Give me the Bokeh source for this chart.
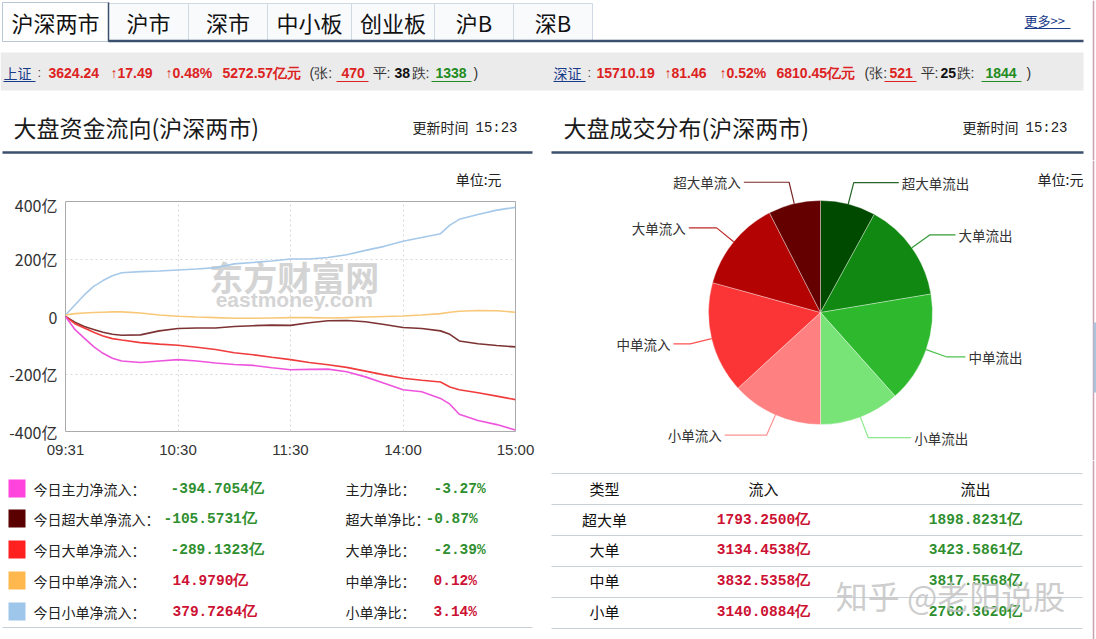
from bokeh.plotting import figure
from bokeh.layouts import column, row
from bokeh.models import Range1d, FixedTicker
from bokeh.core.properties import value
from bokeh.embed import file_html
from bokeh.resources import INLINE
import math

CJK = "Noto Sans CJK SC"
SANS = "Liberation Sans"
MONO = "Liberation Mono"

# ---------------- data ----------------
tabs = ["沪深两市", "沪市", "深市", "中小板", "创业板", "沪B", "深B"]

sh_name, sh_index, sh_chg, sh_pct, sh_amt, sh_up, sh_flat, sh_down = "上证", 3624.24, 17.49, 0.48, 5272.57, 470, 38, 1338
sz_name, sz_index, sz_chg, sz_pct, sz_amt, sz_up, sz_flat, sz_down = "深证", 15710.19, 81.46, 0.52, 6810.45, 521, 25, 1844

minutes = [0, 5, 10, 15, 20, 25, 30, 40, 50, 60, 70, 80, 90, 100, 110, 120, 130, 140, 150,
           160, 170, 180, 190, 200, 205, 210, 220, 230, 240]
small_flow = [5, 40, 75, 105, 125, 142, 152, 156, 158, 162, 165, 170, 183, 188, 193, 200, 200, 205, 215,
              230, 244, 262, 275, 288, 318, 338, 355, 370, 379.7]
medium_flow = [5, 10, 12, 14, 15, 16, 16, 12, 5, 1, -2, -4, -6, -6, -5, -4, -4, -5, -4,
               -2, 0, 2, 5, 10, 15, 18, 21, 20, 15.0]
super_flow = [0, -20, -35, -45, -55, -62, -65, -64, -50, -42, -40, -40, -35, -32, -30, -31, -22, -15, -14,
              -18, -28, -38, -42, -50, -62, -85, -95, -101, -105.6]
large_flow = [0, -25, -40, -55, -68, -77, -82, -91, -96, -100, -107, -115, -126, -133, -142, -150, -160, -168, -177,
              -190, -203, -215, -222, -228, -245, -255, -265, -277, -289.1]
main_flow = [0, -45, -75, -105, -128, -145, -155, -160, -155, -150, -155, -162, -167, -170, -178, -185, -184, -183, -192,
             -210, -232, -255, -262, -285, -305, -340, -362, -376, -394.7]

x_tick_pos = [0, 60, 120, 180, 240]
x_tick_labels = ["09:31", "10:30", "11:30", "14:00", "15:00"]
y_tick_pos = [-400, -200, 0, 200, 400]
y_tick_labels = ["-400亿", "-200亿", "0", "200亿", "400亿"]

legend_names = ["今日主力净流入：", "今日超大单净流入：", "今日大单净流入：", "今日中单净流入：", "今日小单净流入："]
net_values = [-394.7054, -105.5731, -289.1323, 14.9790, 379.7264]
ratio_names = ["主力净比：", "超大单净比：", "大单净比：", "中单净比：", "小单净比："]
ratio_values = [-3.27, -0.87, -2.39, 0.12, 3.14]

order_types = ["超大单", "大单", "中单", "小单"]
inflow = [1793.2500, 3134.4538, 3832.5358, 3140.0884]
outflow = [1898.8231, 3423.5861, 3817.5568, 2760.3620]

pie_labels = ["超大单流出", "大单流出", "中单流出", "小单流出", "小单流入", "中单流入", "大单流入", "超大单流入"]
pie_values = [outflow[0], outflow[1], outflow[2], outflow[3], inflow[3], inflow[2], inflow[1], inflow[0]]

# ---------------- styles ----------------
RED = "#dd2222"
GREEN = "#228b22"
VRED = "#cc1133"
VGREEN = "#2f8f2f"
BLUE_LINK = "#1a3a8a"
SLATE = "#3d4f6e"
line_colors = ["#a6c9ea", "#f8c878", "#7d3333", "#f03c3c", "#ee55dd"]
square_colors = ["#ff44dd", "#5a0000", "#ff2020", "#ffb84d", "#9ec5ea"]
pie_colors = ["#004a00", "#118811", "#2eb82e", "#78e478", "#ff8080", "#fb3535", "#b30303", "#640000"]


def canvas(w, h, yup=False):
    p = figure(width=w, height=h, x_range=Range1d(0, w),
               y_range=Range1d(0, h) if yup else Range1d(h, 0),
               output_backend="svg", toolbar_location=None, min_border=0,
               x_axis_location=None, y_axis_location=None)
    p.xgrid.visible = False
    p.ygrid.visible = False
    p.outline_line_color = None
    p.background_fill_color = "white"
    p.border_fill_color = "white"
    return p


def T(p, x, y, s, size=14, color="#222222", font=CJK, bold=False, align="left", base="middle", alpha=1.0):
    p.text(x=[x], y=[y], text=[s], text_font=value(font), text_font_size=value(f"{size}px"),
           text_color=color, text_font_style="bold" if bold else "normal",
           text_align=align, text_baseline=base, text_alpha=alpha)


# ---------------- header ----------------
hd = canvas(1096, 160)
tab_edges = [2, 108, 188, 267, 351, 434, 513, 592]
hd.quad(left=tab_edges[1:-1], right=tab_edges[2:], top=[3] * (len(tabs) - 1), bottom=[40] * (len(tabs) - 1),
        fill_color="#f9fafc", line_color="#cfd9e4", line_width=1)
hd.quad(left=[tab_edges[0]], right=[tab_edges[1]], top=[2], bottom=[41], fill_color="white",
        line_color="#b8c6d6", line_width=1)
hd.segment(x0=[tab_edges[1]], y0=[2], x1=[tab_edges[1]], y1=[41], line_color=SLATE, line_width=1.5)
for i, t in enumerate(tabs):
    T(hd, (tab_edges[i] + tab_edges[i + 1]) / 2, 21, t, size=22, color="#111111", align="center")
hd.segment(x0=[tab_edges[1]], y0=[40.5], x1=[1083], y1=[40.5], line_color=SLATE, line_width=2.5)
T(hd, 1024, 20, "更多>>", size=13, color=BLUE_LINK)
hd.segment(x0=[1024], y0=[28], x1=[1070], y1=[28], line_color=BLUE_LINK, line_width=1)

# index bar
hd.quad(left=[0], right=[1083], top=[52], bottom=[90], fill_color="#ebebeb", line_color=None)


def index_line(x0, name, idx, chg, pct, amt, up, flat, down, xs):
    T(hd, x0, 72, name, size=14, color=BLUE_LINK)
    hd.segment(x0=[x0], y0=[81], x1=[x0 + 32], y1=[81], line_color=BLUE_LINK, line_width=1)
    T(hd, xs[0], 72, ":", size=13, color="#444444", font=SANS)
    T(hd, xs[1], 72, f"{idx:.2f}", bold=True, color=RED, font=SANS)
    T(hd, xs[2], 72, f"↑{chg:.2f}", bold=True, color=RED, font=SANS)
    T(hd, xs[3], 72, f"↑{pct:.2f}%", bold=True, color=RED, font=SANS)
    T(hd, xs[4], 72, f"{amt:.2f}亿元", bold=True, color=RED, font=SANS)
    T(hd, xs[5], 72, "(张:", color="#333333", font=SANS)
    T(hd, xs[6] + 5, 72, f"{up}", bold=True, color=RED, font=SANS)
    hd.segment(x0=[xs[6]], y0=[81], x1=[xs[6] + 32], y1=[81], line_color=RED, line_width=1)
    T(hd, xs[7], 72, "平:", color="#333333", font=SANS)
    T(hd, xs[8], 72, f"{flat}", bold=True, color="#111111", font=SANS)
    T(hd, xs[9], 72, "跌:", color="#333333", font=SANS)
    T(hd, xs[10] + 4, 72, f"{down}", bold=True, color=GREEN, font=SANS)
    hd.segment(x0=[xs[10]], y0=[81], x1=[xs[10] + 40], y1=[81], line_color=GREEN, line_width=1)
    T(hd, xs[11], 72, ")", color="#333333", font=SANS)


index_line(3, sh_name, sh_index, sh_chg, sh_pct, sh_amt, sh_up, sh_flat, sh_down,
           [37, 48, 110, 165, 222, 309, 336, 372, 394, 411, 431, 473])
index_line(553, sz_name, sz_index, sz_chg, sz_pct, sz_amt, sz_up, sz_flat, sz_down,
           [587, 596, 664, 719, 776, 864, 884, 920, 940, 956, 981, 1026])

# section titles
T(hd, 13, 126, "大盘资金流向(沪深两市)", size=23, color="#1a1a1a")
T(hd, 412, 126, "更新时间", size=14, color="#222222")
T(hd, 475, 127, "15:23", size=14, color="#222222", font=MONO)
T(hd, 563, 126, "大盘成交分布(沪深两市)", size=23, color="#1a1a1a")
T(hd, 962, 126, "更新时间", size=14, color="#222222")
T(hd, 1025, 127, "15:23", size=14, color="#222222", font=MONO)
hd.segment(x0=[2, 551], y0=[152, 152], x1=[532, 1083], y1=[152, 152], line_color=SLATE, line_width=2.5)
hd.segment(x0=[1093], y0=[0], x1=[1093], y1=[160], line_color="#c9a0b0", line_width=1.5)

# ---------------- left middle: unit + line chart ----------------
uf = canvas(550, 32)
T(uf, 533, 18, "单位:元", size=14, color="#222222", align="right")

lf = figure(width=550, height=268, x_range=Range1d(0, 240), y_range=Range1d(-400, 400),
            output_backend="svg", toolbar_location=None,
            min_border_left=65, min_border_right=35, min_border_top=9, min_border_bottom=27)
lf.outline_line_color = "#aaaaaa"
lf.outline_line_width = 1
lf.background_fill_color = "white"
lf.border_fill_color = "white"
for ax in (lf.xaxis[0], lf.yaxis[0]):
    ax.axis_line_color = None
    ax.major_tick_line_color = None
    ax.minor_tick_line_color = None
    ax.major_tick_out = 0
    ax.major_tick_in = 0
    ax.minor_tick_out = 0
    ax.major_label_text_color = "#333333"
lf.xaxis.major_label_text_font = SANS
lf.xaxis.major_label_text_font_size = "15px"
lf.yaxis.major_label_text_font = CJK
lf.yaxis.major_label_text_font_size = "16px"
lf.xaxis.ticker = FixedTicker(ticks=x_tick_pos)
lf.xaxis.major_label_overrides = dict(zip(x_tick_pos, x_tick_labels))
lf.xaxis.major_label_standoff = 9
lf.yaxis.ticker = FixedTicker(ticks=y_tick_pos)
lf.yaxis.major_label_overrides = dict(zip(y_tick_pos, y_tick_labels))
lf.yaxis.major_label_standoff = 8
lf.xgrid.ticker = FixedTicker(ticks=x_tick_pos[1:-1])
lf.ygrid.ticker = FixedTicker(ticks=[-200, 200])
for g in (lf.xgrid[0], lf.ygrid[0]):
    g.grid_line_color = "#d8d8d8"
    g.grid_line_dash = "2 3"
    g.grid_line_width = 1

# watermark
lf.text(x=[122], y=[140], text=["东方财富网"], text_font=value(CJK), text_font_size=value("34px"),
        text_font_style="bold", text_color="#d4d4d4", text_align="center", text_baseline="middle")
lf.text(x=[122], y=[60], text=["eastmoney.com"], text_font=value(SANS), text_font_size=value("21px"),
        text_font_style="bold", text_color="#d4d4d4", text_align="center", text_baseline="middle")

series = [small_flow, medium_flow, super_flow, large_flow, main_flow]
for s, c in zip(series, line_colors):
    lf.line(minutes, s, line_color=c, line_width=1.6)

# ---------------- right middle: pie ----------------
pf = canvas(546, 300, yup=True)
T(pf, 533, 300 - 18, "单位:元", size=14, color="#222222", align="right")
cx, cy, R = 270, 148, 112
total = sum(pie_values)
acc = 0.0
starts, ends, mids = [], [], []
for v in pie_values:
    a0 = acc / total * 360.0
    acc += v
    a1 = acc / total * 360.0
    starts.append(math.radians(90 - a1))
    ends.append(math.radians(90 - a0))
    mids.append((a0 + a1) / 2)
pf.wedge(x=cx, y=cy, radius=R, start_angle=starts, end_angle=ends, fill_color=pie_colors,
         line_color="white", line_alpha=0.35, line_width=1)
for lab, m, c in zip(pie_labels, mids, pie_colors):
    th = math.radians(m)
    sx, sy = math.sin(th), math.cos(th)
    x1, y1 = cx + R * sx, cy + R * sy
    x2, y2 = cx + (R + 22) * sx, cy + (R + 22) * sy
    d = 1 if sx >= 0 else -1
    L = 15 + 32 * sy * sy
    x3 = x2 + d * L
    pf.line([x1, x2, x3], [y1, y2, y2], line_color=c, line_width=1.2, line_alpha=0.85)
    T(pf, x3 + d * 3, y2, lab, size=13.5, color="#333333", align="left" if d > 0 else "right")
pf.segment(x0=[543], y0=[0], x1=[543], y1=[300], line_color="#c9a0b0", line_width=1.5)
pf.quad(left=[543], right=[546], top=[300 - 162], bottom=[300 - 232], fill_color="#a9c4dd", line_color=None)

# ---------------- bottom left: legend ----------------
gf = canvas(550, 179)
row_y = [28, 58, 89, 120, 151]
val_x = [170, 163, 170, 172, 172]
rat_x = [433, 425, 433, 433, 433]
for i in range(5):
    y = row_y[i]
    gf.quad(left=[8], right=[25], top=[y - 9], bottom=[y + 9], fill_color=square_colors[i], line_color=None)
    T(gf, 33, y, legend_names[i], size=14, color="#222222")
    col = VGREEN if net_values[i] < 0 else VRED
    T(gf, val_x[i], y, f"{net_values[i]:.4f}亿", size=14.5, color=col, font=MONO, bold=True)
    T(gf, 345, y, ratio_names[i], size=14, color="#222222")
    T(gf, rat_x[i], y, f"{ratio_values[i]:.2f}%", size=14.5, color=col, font=MONO, bold=True)
gf.segment(x0=[2], y0=[167], x1=[532], y1=[167], line_color="#c8d0d8", line_width=1.2)

# ---------------- bottom right: table ----------------
tf = canvas(546, 179)
hl = [13, 44, 75, 106, 137, 168]
tf.segment(x0=[1] * len(hl), y0=hl, x1=[532] * len(hl), y1=hl, line_color="#c8d0d8", line_width=1.2)
T(tf, 54, 28, "类型", size=15, color="#111111", align="center")
T(tf, 213, 28, "流入", size=15, color="#111111", align="center")
T(tf, 425, 28, "流出", size=15, color="#111111", align="center")
tr_y = [59, 89, 120, 151]
for i in range(4):
    T(tf, 54, tr_y[i], order_types[i], size=15, color="#111111", align="center")
    T(tf, 213, tr_y[i], f"{inflow[i]:.4f}亿", size=14.5, color=VRED, font=MONO, bold=True, align="center")
    T(tf, 425, tr_y[i], f"{outflow[i]:.4f}亿", size=14.5, color=VGREEN, font=MONO, bold=True, align="center")
T(tf, 400, 134, "知乎 @老阳说股", size=32, color="#c4c4c4", align="center", alpha=0.85)
tf.segment(x0=[543], y0=[0], x1=[543], y1=[179], line_color="#c9a0b0", line_width=1.5)

root = column(hd, row(column(uf, lf), pf), row(gf, tf))
open("out.html", "w").write(file_html(root, INLINE))
